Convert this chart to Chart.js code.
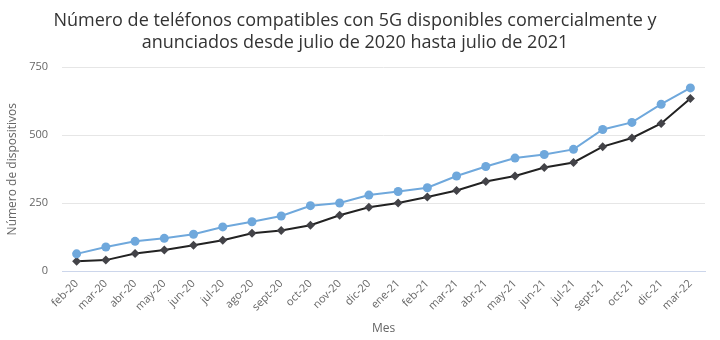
<!DOCTYPE html>
<html lang="es">
<head>
<meta charset="utf-8">
<script src="https://cdn.jsdelivr.net/npm/chart.js@4/dist/chart.umd.min.js"></script>
<style>
  html, body { margin: 0; padding: 0; background: #fff; }
  #wrap { width: 720px; height: 340px; position: relative; }
</style>
</head>
<body>
<div id="wrap"><canvas id="c"></canvas></div>
<script>
  // meses (eje X)
  const meses = ["feb-20", "mar-20", "abr-20", "may-20", "jun-20", "jul-20", "ago-20", "sept-20",
    "oct-20", "nov-20", "dic-20", "ene-21", "feb-21", "mar-21", "abr-21", "may-21", "jun-21",
    "jul-21", "sept-21", "oct-21", "dic-21", "mar-22"];

  // serie azul (círculos) y serie negra (rombos)
  const serieAzul = [64, 89, 110, 121, 136, 163, 182, 203, 241, 251, 280, 293, 307, 350, 385,
    416, 429, 448, 521, 547, 614, 674];
  const serieNegra = [37, 41, 65, 78, 96, 114, 140, 150, 169, 206, 235, 251, 273, 297, 330,
    350, 381, 400, 458, 490, 543, 635];

  const ticksY = [0, 250, 500, 750];

  const titulo = ["Número de teléfonos compatibles con 5G disponibles comercialmente y",
    "anunciados desde julio de 2020 hasta julio de 2021"];

  const FONT = "'Open Sans', 'Noto Sans', sans-serif";

  new Chart(document.getElementById("c"), {
    type: "line",
    data: {
      labels: meses,
      datasets: [
        {
          data: serieAzul, borderColor: "#6fa8dc", backgroundColor: "#6fa8dc",
          borderWidth: 2, pointStyle: "circle", pointRadius: 4.5, pointBorderWidth: 0,
          tension: 0
        },
        {
          data: serieNegra, borderColor: "#222", backgroundColor: "#434348",
          borderWidth: 2, pointStyle: "rectRot", pointRadius: 4.5, pointBorderWidth: 0,
          tension: 0
        }
      ]
    },
    options: {
      responsive: true, maintainAspectRatio: false, animation: false,
      layout: { padding: { left: 5, right: 15, top: 0, bottom: 0 } },
      plugins: {
        legend: { display: false },
        tooltip: { enabled: false },
        title: {
          display: true, text: titulo, color: "#333",
          font: { family: FONT, size: 18, weight: "normal" }, lineHeight: 1.2,
          padding: { top: 10, bottom: 14 }
        }
      },
      scales: {
        x: {
          offset: true,
          grid: { display: false, drawTicks: false },
          border: { color: "#ccd6eb", width: 1 },
          ticks: {
            color: "#666", font: { family: FONT, size: 11 }, minRotation: 45, maxRotation: 45,
            autoSkip: false, padding: 6
          },
          title: { display: true, text: "Mes", color: "#666", font: { family: FONT, size: 12 }, padding: { top: 2, bottom: 4 } }
        },
        y: {
          min: 0, max: 750,
          afterBuildTicks: (s) => { s.ticks = ticksY.map((v) => ({ value: v })); },
          afterFit: (s) => { s.width = 57; },
          grid: { color: "#e6e6e6", drawTicks: false },
          border: { display: false },
          ticks: { color: "#666", font: { family: FONT, size: 11 }, padding: 14 },
          title: { display: true, text: "Número de dispositivos", color: "#666", font: { family: FONT, size: 12 }, padding: { top: 0, bottom: 2 } }
        }
      }
    }
  });
</script>
</body>
</html>
